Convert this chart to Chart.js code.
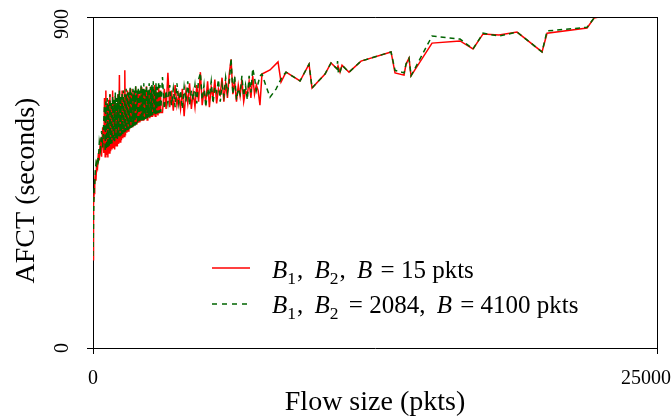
<!DOCTYPE html>
<html>
<head>
<meta charset="utf-8">
<script src="https://cdn.jsdelivr.net/npm/chart.js@4.4.0/dist/chart.umd.min.js"></script>
<style>
html, body { margin: 0; padding: 0; background: #fff; }
#wrap { position: relative; width: 671px; height: 416px; }
</style>
</head>
<body>
<div id="wrap"><canvas id="afct-chart"></canvas></div>
<script>
// flow sizes (pkts) of the dense part, shared by both series
var flowDense = [0, 15, 30, 50, 75, 100, 130, 160, 200, 240, 280, 330, 380, 430, 480,
    510, 540, 570, 600, 630, 660, 690, 720, 750, 780, 810, 840, 870, 900, 930, 960, 990,
    1020, 1050, 1080, 1110, 1140, 1170, 1200, 1230, 1260, 1290, 1320, 1350, 1380, 1410,
    1440, 1470, 1500, 1530, 1560, 1590, 1620, 1650, 1680, 1710, 1740, 1770, 1800, 1830,
    1860, 1890, 1920, 1950, 1980, 2010, 2040, 2070, 2100, 2130, 2160, 2190, 2220, 2250,
    2280, 2310, 2340, 2370, 2400, 2430, 2460, 2490, 2520, 2550, 2580, 2610, 2640, 2670,
    2700, 2730, 2760, 2790, 2820, 2850, 2880, 2910, 2940, 2970, 3000,
    3080, 3160, 3240, 3320, 3400, 3480, 3560, 3640, 3720, 3800, 3880, 3960, 4040, 4120, 4200,
    4280, 4360, 4440, 4520, 4600, 4680, 4760, 4840, 4920, 5000, 5080, 5160, 5240, 5320, 5400,
    5480, 5560, 5640, 5720, 5800, 5880, 5960, 6040, 6120, 6200, 6280, 6360, 6440, 6520, 6600,
    6680, 6760, 6840, 6920, 7000, 7080, 7160, 7240, 7320, 7400];

var redDense = [240, 330, 390, 420, 450, 470, 455, 500, 490, 530, 510, 570, 520, 600, 530,
    680, 520, 700, 525, 660, 518, 675, 530, 690, 535,
    665, 540, 700, 545, 670, 540, 685, 550, 660, 548,
    690, 555, 742, 560, 680, 565, 700, 570, 675, 575,
    755, 578, 690, 585, 700, 590, 680, 595, 705, 598,
    690, 602, 700, 606, 685, 605, 710, 610, 690, 612,
    700, 615, 690, 616, 710, 618, 695, 620, 705, 622,
    690, 625, 712, 620, 700, 628, 695, 625, 710, 630,
    690, 628, 705, 632, 715, 630, 700, 635, 695, 632,
    710, 638, 700, 640,
    640, 705, 650, 748, 655, 700, 645, 715, 660, 690, 650, 705, 630, 700, 665,
    720, 650, 695, 655, 715, 670, 750, 660, 700, 670, 725, 655, 710, 680, 730,
    665, 705, 690, 735, 670, 720, 680, 745, 785, 690, 725, 670, 715, 685, 730,
    670, 700, 690, 725, 680, 740, 690, 715, 700, 660];

var greenDense = [250, 310, 370, 430, 440, 480, 500, 490, 520, 510, 560, 540, 590, 545, 620,
    660, 535, 670, 540, 680, 545, 665, 550, 690, 552,
    670, 556, 685, 560, 675, 562, 695, 566, 680, 568,
    690, 572, 700, 575, 685, 578, 695, 582, 700, 585,
    690, 588, 705, 590, 695, 593, 700, 596, 710, 598,
    695, 600, 705, 603, 700, 605, 715, 608, 700, 610,
    710, 612, 700, 615, 715, 617, 705, 619, 720, 621,
    705, 623, 715, 625, 700, 627, 720, 629, 710, 631,
    715, 633, 725, 634, 705, 636, 720, 637, 710, 639,
    725, 640, 715, 642,
    737, 650, 700, 665, 715, 660, 705, 655, 720, 665, 700, 650, 710, 670, 725,
    660, 700, 675, 715, 665, 730, 748, 675, 715, 655, 705, 685, 725, 665, 710,
    695, 730, 670, 715, 685, 735, 695, 720, 788, 690, 740, 675, 705, 690, 740,
    685, 715, 675, 740, 695, 760, 735, 700, 720, 740];

// sparse tail (null = no sample for that series)
var flowTail = [7490, 7670, 7847, 8113, 8201, 8334, 8379, 8556, 9177, 9576,
    9709, 10285, 10551, 10817, 10840, 10861, 10880, 10950, 11038, 11349,
    11881, 13211, 13388, 13787, 13876, 14008, 14097, 15028, 16269, 16845,
    17289, 17998, 18796, 19904, 20126, 21900, 22210, 22653, 25000];
var redTail = [745, null, 756, null, 778, 723, null, 750, 726, 772,
    707, 745, 775, 759, null, 767, null, 750, 769, 750,
    780, 805, 748, 742, 772, 788, 740, 829, 835, 813,
    854, 851, 859, 805, 856, 870, 897, 903, 960];
var greenTail = [745, 712, 682, 704, null, null, 737, 750, 726, 772,
    707, 745, 775, 759, 780, null, 745, 750, 769, 750,
    780, 805, 755, 748, 772, 788, 740, 848, 840, 813,
    856, 848, 859, 805, 862, 872, 897, 905, 960];

var xTicks = [0, 25000];
var yTicks = [0, 900];
var xTitle = 'Flow size (pkts)';
var yTitle = 'AFCT (seconds)';
// legend entries as [text, italic, subscript, extra gap after] runs
var legendRed = [['B', 1, 0, 0], ['1', 0, 1, 1], [', ', 0, 0, 5], ['B', 1, 0, 0], ['2', 0, 1, 1],
    [', ', 0, 0, 5], ['B', 1, 0, 2], [' = 15 pkts', 0, 0, 0]];
var legendGreen = [['B', 1, 0, 0], ['1', 0, 1, 1], [', ', 0, 0, 5], ['B', 1, 0, 0], ['2', 0, 1, 4],
    [' = 2084, ', 0, 0, 5], ['B', 1, 0, 2], [' = 4100 pkts', 0, 0, 0]];

var SERIF = '"Liberation Serif", "Times New Roman", serif';

function points(xs, ys) {
    return xs.map(function (x, i) { return { x: x, y: ys[i] }; });
}

function drawRuns(ctx, x, y, runs, size) {
    runs.forEach(function (r) {
        var fs = r[2] ? size * 0.7 : size;
        ctx.font = (r[1] ? 'italic ' : '') + fs + 'px ' + SERIF;
        ctx.fillText(r[0], x, y + (r[2] ? size * 0.22 : 0));
        x += ctx.measureText(r[0]).width + r[3];
    });
}

var decor = {
    id: 'decor',
    afterDraw: function (chart) {
        var ctx = chart.ctx, a = chart.chartArea;
        var xs = chart.scales.x, ys = chart.scales.y;
        ctx.save();
        // box top and right
        ctx.strokeStyle = '#000';
        ctx.lineWidth = 1;
        ctx.beginPath();
        ctx.moveTo(a.left, a.top + 0.5);
        ctx.lineTo(a.right + 0.5, a.top + 0.5);
        ctx.moveTo(a.right + 0.5, a.top);
        ctx.lineTo(a.right + 0.5, a.bottom);
        ctx.stroke();

        ctx.fillStyle = '#000';
        ctx.font = '20px ' + SERIF;
        ctx.textBaseline = 'alphabetic';
        // x tick labels
        ctx.textAlign = 'center';
        ctx.fillText(String(xTicks[0]), xs.getPixelForValue(xTicks[0]), 384);
        ctx.textAlign = 'right';
        ctx.fillText(String(xTicks[1]), 671, 384);
        // y tick labels, rotated
        yTicks.forEach(function (t, i) {
            var py = ys.getPixelForValue(t) + (i === 1 ? 7 : 0);
            ctx.save();
            ctx.translate(68, py);
            ctx.rotate(-Math.PI / 2);
            ctx.textAlign = 'center';
            ctx.fillText(String(t), 0, 0);
            ctx.restore();
        });

        // axis titles
        ctx.font = '28px ' + SERIF;
        ctx.textAlign = 'center';
        ctx.fillText(xTitle, (a.left + a.right) / 2, 410);
        ctx.save();
        ctx.translate(34, (a.top + a.bottom) / 2 + 8);
        ctx.rotate(-Math.PI / 2);
        ctx.fillText(yTitle, 0, 0);
        ctx.restore();

        // legend
        ctx.textAlign = 'left';
        ctx.lineWidth = 1.5;
        ctx.strokeStyle = '#ff0000';
        ctx.beginPath();
        ctx.moveTo(212, 268);
        ctx.lineTo(250, 268);
        ctx.stroke();
        ctx.strokeStyle = '#006400';
        ctx.setLineDash([5, 5]);
        ctx.beginPath();
        ctx.moveTo(212, 304);
        ctx.lineTo(250, 304);
        ctx.stroke();
        ctx.setLineDash([]);
        drawRuns(ctx, 272, 278, legendRed, 25);
        drawRuns(ctx, 272, 313, legendGreen, 25);
        ctx.restore();
    }
};

new Chart(document.getElementById('afct-chart').getContext('2d'), {
    type: 'line',
    data: {
        datasets: [
            {
                label: 'B1, B2, B = 15 pkts',
                data: points(flowDense.concat(flowTail), redDense.concat(redTail)),
                borderColor: '#ff0000',
                borderWidth: 1.5,
                pointRadius: 0,
                spanGaps: true,
                order: 1,
            },
            {
                label: 'B1, B2 = 2084, B = 4100 pkts',
                data: points(flowDense.concat(flowTail), greenDense.concat(greenTail)),
                borderColor: '#006400',
                borderWidth: 1.5,
                borderDash: [5, 4],
                pointRadius: 0,
                spanGaps: true,
                order: 0,
            },
        ],
    },
    options: {
        responsive: true,
        maintainAspectRatio: false,
        animation: false,
        layout: { padding: { top: 17, right: 14, left: 0, bottom: 0 } },
        plugins: { legend: { display: false }, tooltip: { enabled: false } },
        scales: {
            x: {
                type: 'linear',
                min: 0,
                max: 25000,
                ticks: { display: false, stepSize: 25000 },
                grid: { drawOnChartArea: false, drawTicks: true, tickLength: 6, color: '#000' },
                border: { color: '#000', width: 1 },
                afterFit: function (s) {
                    s.height = 68;
                    s.paddingLeft = 0;
                    s.paddingRight = 0;
                },
            },
            y: {
                min: 0,
                max: 900,
                ticks: { display: false, stepSize: 900 },
                grid: { drawOnChartArea: false, drawTicks: true, tickLength: 6, color: '#000' },
                border: { color: '#000', width: 1 },
                afterFit: function (s) {
                    s.width = 93;
                    s.paddingTop = 0;
                    s.paddingBottom = 0;
                },
            },
        },
    },
    plugins: [decor],
});
</script>
</body>
</html>
